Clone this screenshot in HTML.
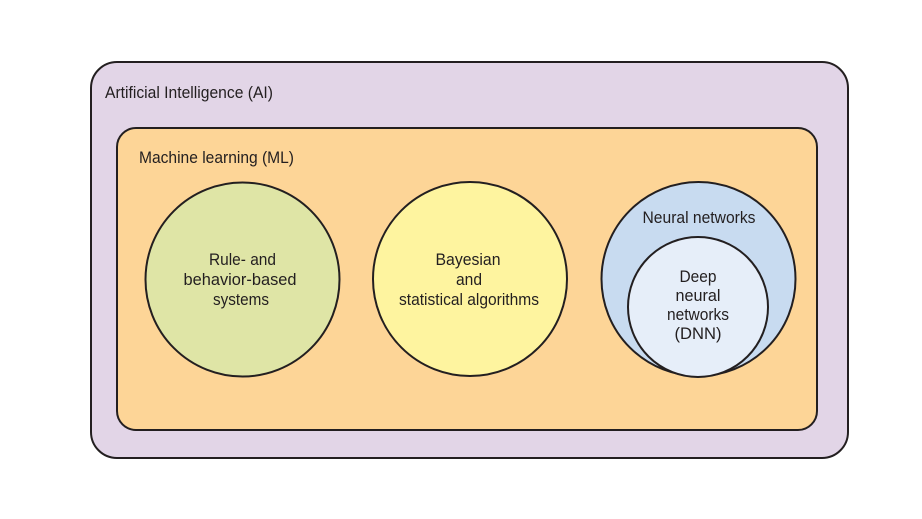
<!DOCTYPE html>
<html>
<head>
<meta charset="utf-8">
<style>
  html,body{margin:0;padding:0;background:#ffffff;}
  body{width:922px;height:519px;overflow:hidden;}
  svg{display:block;}
  text{font-family:"Liberation Sans", sans-serif;font-size:16.5px;fill:#231f20;}
</style>
</head>
<body>
<svg width="922" height="519" viewBox="0 0 922 519" xmlns="http://www.w3.org/2000/svg">
  <rect x="0" y="0" width="922" height="519" fill="#ffffff"/>
  <!-- AI outer box -->
  <rect x="91" y="62" width="757" height="396" rx="26" ry="26" fill="#e2d5e7" stroke="#231f20" stroke-width="2"/>
  <text x="105" y="98" textLength="168" lengthAdjust="spacingAndGlyphs">Artificial Intelligence (AI)</text>
  <!-- ML box -->
  <rect x="117" y="128" width="700" height="302" rx="19" ry="19" fill="#fdd597" stroke="#231f20" stroke-width="2"/>
  <text x="139" y="163" textLength="155" lengthAdjust="spacingAndGlyphs">Machine learning (ML)</text>

  <!-- Rule based circle -->
  <circle cx="242.5" cy="279.5" r="97" fill="#dfe5a6" stroke="#231f20" stroke-width="2"/>
  <text x="242.5" y="265" text-anchor="middle" textLength="67" lengthAdjust="spacingAndGlyphs">Rule- and</text>
  <text x="240" y="285" text-anchor="middle" textLength="113" lengthAdjust="spacingAndGlyphs">behavior-based</text>
  <text x="241" y="305" text-anchor="middle" textLength="56" lengthAdjust="spacingAndGlyphs">systems</text>

  <!-- Bayesian circle -->
  <circle cx="470" cy="279" r="97" fill="#fef49f" stroke="#231f20" stroke-width="2"/>
  <text x="468" y="265" text-anchor="middle" textLength="65" lengthAdjust="spacingAndGlyphs">Bayesian</text>
  <text x="469" y="285" text-anchor="middle" textLength="26" lengthAdjust="spacingAndGlyphs">and</text>
  <text x="469" y="305" text-anchor="middle" textLength="140" lengthAdjust="spacingAndGlyphs">statistical algorithms</text>

  <!-- Neural networks -->
  <circle cx="698.5" cy="279" r="97" fill="#c8dbf0" stroke="#231f20" stroke-width="2"/>
  <text x="699" y="223" text-anchor="middle" textLength="113" lengthAdjust="spacingAndGlyphs">Neural networks</text>
  <circle cx="698" cy="307" r="70" fill="#e6eef9" stroke="#231f20" stroke-width="2"/>
  <text x="698" y="282" text-anchor="middle" textLength="37" lengthAdjust="spacingAndGlyphs">Deep</text>
  <text x="698" y="301" text-anchor="middle" textLength="45" lengthAdjust="spacingAndGlyphs">neural</text>
  <text x="698" y="320" text-anchor="middle" textLength="62" lengthAdjust="spacingAndGlyphs">networks</text>
  <text x="698" y="339" text-anchor="middle" textLength="47" lengthAdjust="spacingAndGlyphs">(DNN)</text>
</svg>
</body>
</html>
